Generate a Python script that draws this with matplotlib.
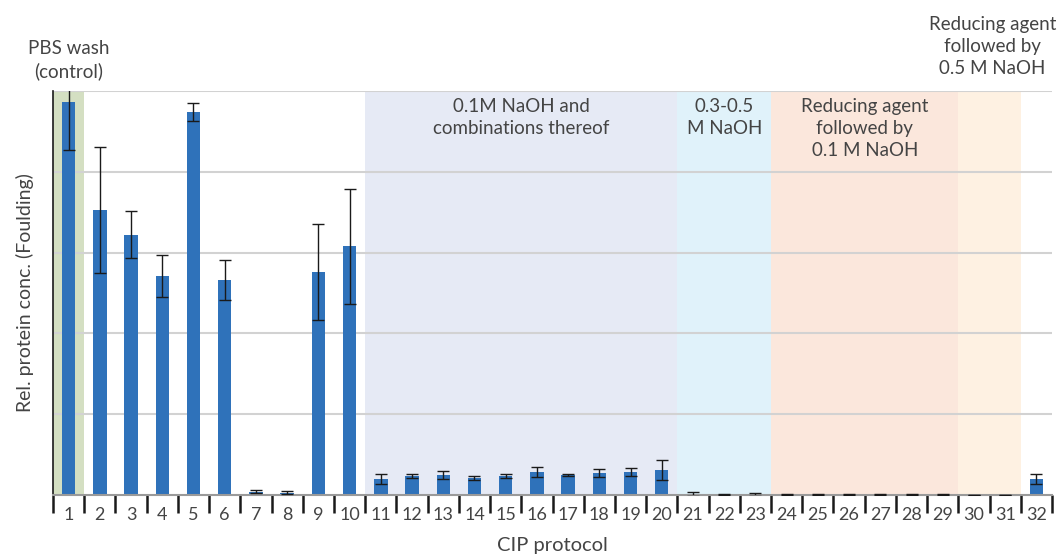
import numpy as np
import matplotlib
matplotlib.use("Agg")
import matplotlib.pyplot as plt

protocols = list(range(1, 33))
values = [4.86, 3.53, 3.22, 2.71, 4.74, 2.66, 0.04, 0.03, 2.76, 3.08,
          0.20, 0.235, 0.247, 0.21, 0.235, 0.285, 0.247, 0.27, 0.285, 0.31,
          0.012, 0.006, 0.006, 0.006, 0.006, 0.006, 0.006, 0.006, 0.006, 0.0,
          0.0, 0.20]
errors = [0.59, 0.78, 0.29, 0.26, 0.11, 0.25, 0.02, 0.02, 0.59, 0.71,
          0.065, 0.03, 0.05, 0.03, 0.025, 0.06, 0.01, 0.05, 0.045, 0.12,
          0.02, 0.004, 0.02, 0.004, 0.004, 0.004, 0.004, 0.004, 0.004, 0.0,
          0.0, 0.06]

# shaded groups: (first protocol, last protocol, colour)
groups = [(1, 1, "#d4dfc2"), (11, 20, "#e6eaf5"), (21, 23, "#e0f2fa"),
          (24, 29, "#fbe7dc"), (30, 31, "#fef1e2")]
group_labels = [
    (1, "PBS wash\n(control)", 5.63),
    (15.5, "0.1M NaOH and\ncombinations thereof", 4.91),
    (22, "0.3-0.5\nM NaOH", 4.91),
    (26.5, "Reducing agent\nfollowed by\n0.1 M NaOH", 4.91),
    (30.6, "Reducing agent\nfollowed by\n0.5 M NaOH", 5.93),
]

plt.rcParams["font.family"] = ["Lato", "DejaVu Sans"]
text_color = "#444444"

fig = plt.figure(figsize=(10.59, 5.58), dpi=100)
ax = fig.add_axes([53 / 1059, 63 / 558, 999 / 1059, 404 / 558])

for first, last, col in groups:
    ax.axvspan(first - 0.5, last + 0.5, color=col, lw=0, zorder=0)

for y in [1, 2, 3, 4, 5]:
    ax.axhline(y, color="#d2d2d2", lw=1.5, zorder=1)

ax.bar(protocols, values, width=0.43, color="#2f72ba", zorder=2)
ax.errorbar(protocols, values, yerr=errors, fmt="none", ecolor="#1a1a1a",
            elinewidth=1, capsize=4, capthick=1, zorder=3)

ax.set_xlim(0.5, 32.5)
ax.set_ylim(0, 5)
ax.set_yticks([])
ax.set_xticks(np.arange(0.5, 33, 1))
ax.set_xticklabels([])
ax.set_xticks(protocols, minor=True)
ax.set_xticklabels([str(p) for p in protocols], minor=True,
                   fontsize=13, color=text_color)
ax.tick_params(axis="x", which="major", length=13, width=1.8,
               color="#1a1a1a", direction="out")
ax.tick_params(axis="x", which="minor", length=0, pad=9)

for side in ["top", "right"]:
    ax.spines[side].set_visible(False)
ax.spines["left"].set_color("#1a1a1a")
ax.spines["left"].set_linewidth(1.2)
ax.spines["bottom"].set_color("#9a9a9a")
ax.spines["bottom"].set_linewidth(1.5)

for x, label, y in group_labels:
    ax.text(x, y, label, ha="center", va="top", fontsize=13.5,
            color=text_color, linespacing=1.35, clip_on=False)

ax.set_xlabel("CIP protocol", fontsize=14.5, color=text_color, labelpad=10)
ax.set_ylabel("Rel. protein conc. (Foulding)", fontsize=14,
              color=text_color, labelpad=14)

fig.savefig("out.png", dpi=100)
